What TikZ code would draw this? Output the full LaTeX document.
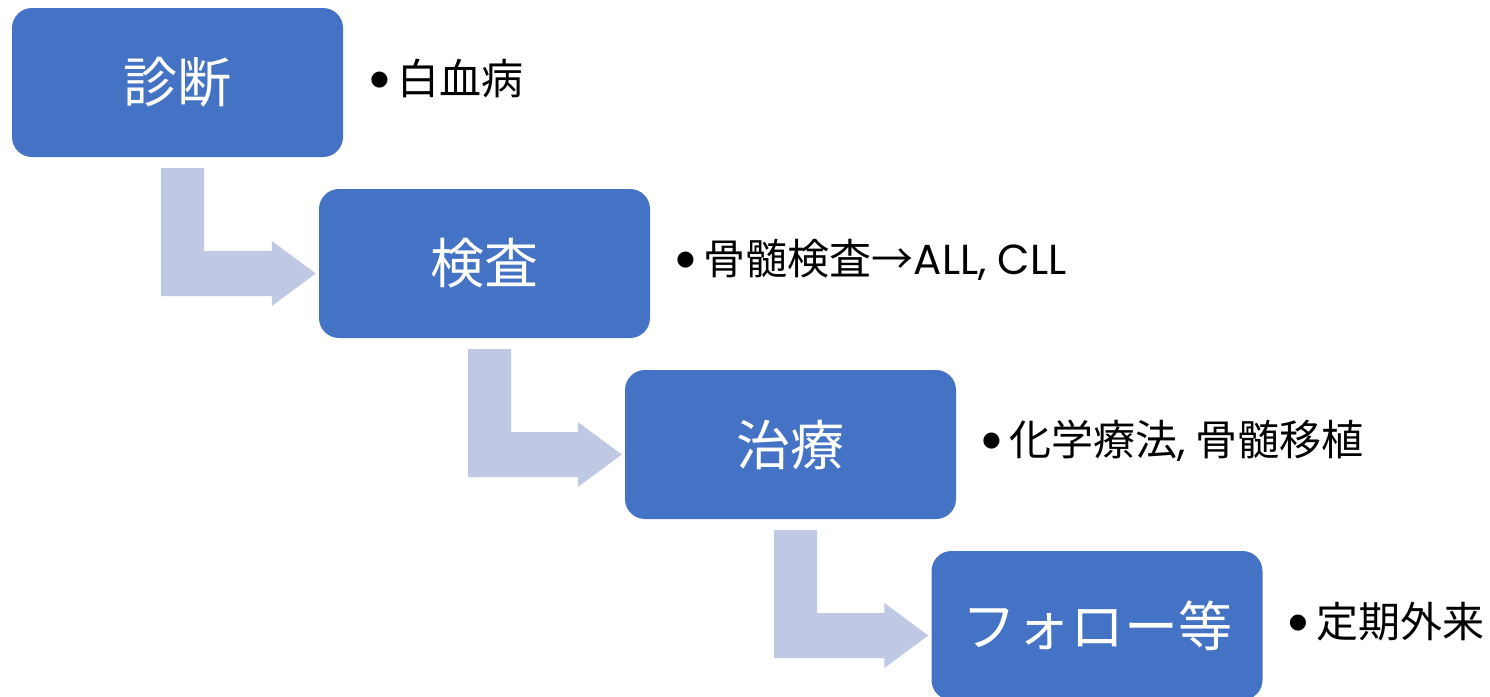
\documentclass[tikz,border=0pt]{standalone}
\usepackage{fontspec}
\setmainfont{Noto Sans CJK JP}
\newfontfamily\cjk{Noto Sans CJK JP}
\newfontfamily\latin{Poppins}
\newfontfamily\dejavu{DejaVu Sans}
\usetikzlibrary{calc}
\definecolor{boxblue}{HTML}{4472C4}
\definecolor{arrowblue}{HTML}{BFC9E3}
\tikzset{
  stepbox/.style = {rectangle, rounded corners=20pt, fill=boxblue, draw=none, text=white,
    minimum width=331pt, minimum height=149pt, inner sep=0pt, font=\cjk\fontsize{54pt}{60pt}\selectfont},
  notetext/.style = {anchor=west, inner sep=0pt, font=\cjk\fontsize{42pt}{48pt}\selectfont},
  bentarrow/.style = {fill=arrowblue, draw=none}
}
% bullet in front of each note
\newcommand{\notebullet}{\raisebox{9pt}{\dejavu\fontsize{21pt}{21pt}\selectfont ●}\hspace{9pt}}
% one bent arrow from below box #1 to the left side of box #2
\newcommand{\bentarrow}[2]{%
  \fill[bentarrow]
    ($(#1.south)+(-16.5,11)$) coordinate (#1-a)
    -- ($(#1.south)+(26.5,11)$)
    |- ($(#2.west)+(-47,-12.5)$)
    -- ($(#2.west)+(-47,-22.5)$)
    -- ($(#2.west)+(-3,10)$)
    -- ($(#2.west)+(-47,42.5)$)
    -- ($(#2.west)+(-47,32.5)$)
    -| (#1-a) -- cycle;
}
\begin{document}
\begin{tikzpicture}[x=1pt,y=-1pt]
  \useasboundingbox (0,0) rectangle (1490,696);
  \node [stepbox] (shindan) at (177.5,82.5) {診断};
  \node [stepbox] (kensa)   at (484.5,263.5) {検査};
  \node [stepbox] (chiryo)  at (790.5,444.5) {治療};
  \node [stepbox] (follow)  at (1097,625.5) {フォロー等};
  \bentarrow{shindan}{kensa}
  \bentarrow{kensa}{chiryo}
  \bentarrow{chiryo}{follow}
  \node [notetext] (n1) at ($(shindan.east)+(27,-4)$) {\notebullet 白血病};
  \node [notetext] (n2) at ($(kensa.east)+(26,-4)$) {\notebullet 骨髄検査→{\latin ALL, CLL}};
  \node [notetext] (n3) at ($(chiryo.east)+(26,-4)$) {\notebullet 化学療法{\latin ,} 骨髄移植};
  \node [notetext] (n4) at ($(follow.east)+(26,-4)$) {\notebullet 定期外来};
\end{tikzpicture}
\end{document}
